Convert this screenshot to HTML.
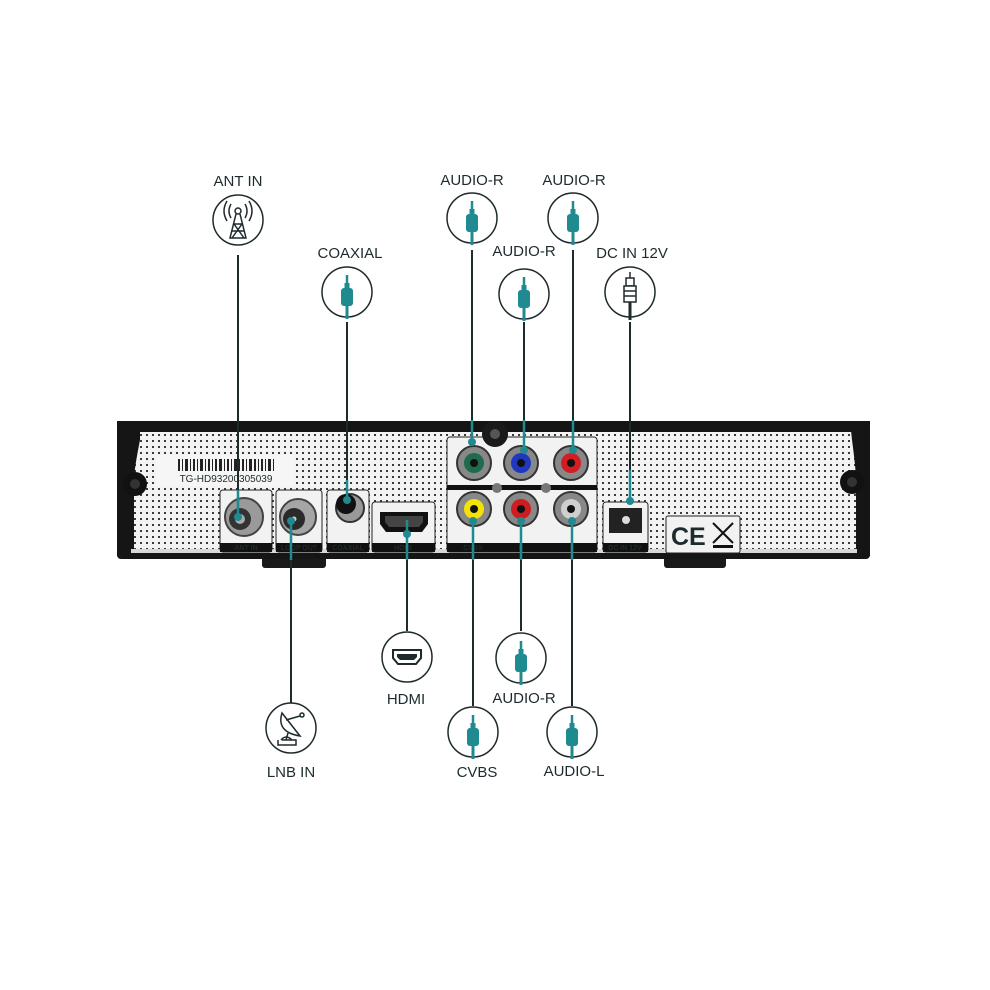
<!DOCTYPE html>
<html><head><meta charset="utf-8"><style>
html,body{margin:0;padding:0;background:#fff;}
svg{display:block;}
text{font-family:"Liberation Sans",sans-serif;fill:#1d2b2e;}
</style></head><body>
<svg width="990" height="990" viewBox="0 0 990 990" xmlns="http://www.w3.org/2000/svg">
<defs>
<pattern id="dots" width="6" height="6" patternUnits="userSpaceOnUse">
<rect width="6" height="6" fill="#f3f3f3"/><rect x="2" y="2" width="2" height="2" fill="#3a3a3a"/>
</pattern>
<g id="jack">
<line x1="0" y1="-17" x2="0" y2="-8" stroke="#1f8a8f" stroke-width="2.5"/>
<rect x="-2.5" y="-9" width="5" height="5" fill="#1f8a8f"/>
<rect x="-6" y="-4" width="12" height="18" rx="3" fill="#1f8a8f"/>
<line x1="0" y1="14" x2="0" y2="27" stroke="#1f8a8f" stroke-width="3"/>
</g>
</defs>

<rect x="262" y="552" width="64" height="16" rx="3" fill="#1a1a1a"/>
<rect x="664" y="552" width="62" height="16" rx="3" fill="#1a1a1a"/>
<rect x="117" y="421" width="753" height="138" rx="4" fill="#151515"/>
<rect x="131" y="432" width="726" height="120" fill="url(#dots)"/>
<path d="M117 421 L140 421 L140 440 Q134 470 134 480 L134 556 L117 556Z" fill="#151515"/>
<path d="M870 421 L850 421 L852 440 Q856 470 856 480 L856 556 L870 556Z" fill="#151515"/>
<circle cx="135" cy="484" r="12" fill="#111"/><circle cx="135" cy="484" r="5" fill="#333"/>
<circle cx="852" cy="482" r="12" fill="#111"/><circle cx="852" cy="482" r="5" fill="#333"/>
<rect x="131" y="549" width="726" height="4" fill="#d8d8d8"/>

<rect x="156" y="455" width="138" height="31" fill="#f6f6f6"/>
<g fill="#222">
<rect x="178" y="459" width="2" height="12"/><rect x="182" y="459" width="1" height="12"/><rect x="185" y="459" width="3" height="12"/><rect x="190" y="459" width="1" height="12"/><rect x="193" y="459" width="2" height="12"/><rect x="197" y="459" width="1" height="12"/><rect x="200" y="459" width="3" height="12"/><rect x="205" y="459" width="1" height="12"/><rect x="208" y="459" width="2" height="12"/><rect x="212" y="459" width="1" height="12"/><rect x="215" y="459" width="2" height="12"/><rect x="219" y="459" width="3" height="12"/><rect x="224" y="459" width="1" height="12"/><rect x="227" y="459" width="2" height="12"/><rect x="231" y="459" width="1" height="12"/><rect x="234" y="459" width="3" height="12"/><rect x="239" y="459" width="1" height="12"/><rect x="242" y="459" width="2" height="12"/><rect x="246" y="459" width="1" height="12"/><rect x="249" y="459" width="3" height="12"/><rect x="254" y="459" width="2" height="12"/><rect x="258" y="459" width="1" height="12"/><rect x="261" y="459" width="2" height="12"/><rect x="265" y="459" width="1" height="12"/><rect x="268" y="459" width="3" height="12"/><rect x="273" y="459" width="1" height="12"/>
</g>
<text x="226" y="482" font-size="10" text-anchor="middle" fill="#333">TG-HD93200305039</text>

<g fill="#f2f2f2" stroke="#222" stroke-width="1">
<rect x="220" y="490" width="52" height="62" rx="3"/>
<rect x="276" y="490" width="46" height="62" rx="3"/>
<rect x="327" y="490" width="42" height="62" rx="3"/>
<rect x="372" y="502" width="63" height="50" rx="3"/>
<rect x="447" y="437" width="150" height="115" rx="3"/>
<rect x="603" y="502" width="45" height="50" rx="3"/>
<rect x="666" y="516" width="74" height="37" rx="2"/>
</g>
<g fill="#111">
<rect x="220" y="543" width="52" height="9"/><rect x="276" y="543" width="46" height="9"/><rect x="327" y="543" width="42" height="9"/><rect x="372" y="543" width="63" height="9"/><rect x="447" y="543" width="150" height="9"/><rect x="603" y="543" width="45" height="9"/>
<rect x="447" y="485" width="150" height="5"/>
</g>
<g font-size="7" text-anchor="middle" font-weight="bold">
<text x="246" y="550" fill="#fff">ANT IN</text><text x="299" y="550" fill="#fff">LOOP OUT</text><text x="348" y="550" fill="#fff">COAXIAL</text><text x="403" y="550" fill="#fff">HDMI</text><text x="473" y="550" fill="#fff">CVBS</text><text x="521" y="550" fill="#fff">R</text><text x="572" y="550" fill="#fff">L</text><text x="625" y="550" fill="#fff">DC IN 12V</text>
</g>
<circle cx="244" cy="517" r="19" fill="#9a9a9a" stroke="#444" stroke-width="2"/>
<circle cx="240" cy="519" r="11" fill="#333"/><circle cx="240" cy="519" r="5" fill="#aaa"/>
<circle cx="298" cy="517" r="18" fill="#a5a5a5" stroke="#444" stroke-width="2"/>
<circle cx="294" cy="519" r="11" fill="#2a2a2a"/><circle cx="294" cy="519" r="2.5" fill="#ccc"/>
<circle cx="350" cy="508" r="14" fill="#999" stroke="#333" stroke-width="2"/>
<circle cx="346" cy="504" r="10" fill="#111"/>
<path d="M380 512 H428 V524 L422 532 H386 L380 524Z" fill="#111"/>
<path d="M385 516 H423 V522 L419 527 H389 L385 522Z" fill="#444"/>
<circle cx="495" cy="434" r="13" fill="#1a1a1a"/><circle cx="495" cy="434" r="5" fill="#555"/>
<g stroke="#333" stroke-width="2">
<circle cx="474" cy="463" r="17" fill="#888"/><circle cx="521" cy="463" r="17" fill="#888"/><circle cx="571" cy="463" r="17" fill="#888"/>
<circle cx="474" cy="509" r="17" fill="#888"/><circle cx="521" cy="509" r="17" fill="#888"/><circle cx="571" cy="509" r="17" fill="#888"/>
</g>
<circle cx="474" cy="463" r="10" fill="#1f6b4e"/><circle cx="521" cy="463" r="10" fill="#2038c0"/><circle cx="571" cy="463" r="10" fill="#d21d22"/>
<circle cx="474" cy="509" r="10" fill="#f2e20a"/><circle cx="521" cy="509" r="10" fill="#cf1c20"/><circle cx="571" cy="509" r="10" fill="#cfcfcf"/>
<g fill="#111"><circle cx="474" cy="463" r="4"/><circle cx="521" cy="463" r="4"/><circle cx="571" cy="463" r="4"/><circle cx="474" cy="509" r="4"/><circle cx="521" cy="509" r="4"/><circle cx="571" cy="509" r="4"/></g>
<circle cx="497" cy="488" r="5" fill="#777"/><circle cx="546" cy="488" r="5" fill="#777"/>
<rect x="609" y="508" width="33" height="25" fill="#222"/><circle cx="626" cy="520" r="4" fill="#ddd"/>
<text x="671" y="545" font-size="25" fill="#111" font-weight="bold">CE</text>
<path d="M713 523 L733 543 M733 523 L713 543" stroke="#111" stroke-width="2"/>
<rect x="713" y="545" width="20" height="3" fill="#111"/>

<g stroke="#1e2a2c" stroke-width="2" fill="none">
<line x1="238" y1="255" x2="238" y2="516"/>
<line x1="347" y1="322" x2="347" y2="500"/>
<line x1="472" y1="250" x2="472" y2="442"/>
<line x1="524" y1="322" x2="524" y2="450"/>
<line x1="573" y1="250" x2="573" y2="450"/>
<line x1="630" y1="322" x2="630" y2="500"/>
<line x1="291" y1="520" x2="291" y2="703"/>
<line x1="407" y1="533" x2="407" y2="631"/>
<line x1="473" y1="520" x2="473" y2="706"/>
<line x1="521" y1="520" x2="521" y2="631"/>
<line x1="572" y1="520" x2="572" y2="706"/>
</g>
<g stroke="#1f8a8f" stroke-width="2.5">
<line x1="238" y1="490" x2="238" y2="516"/><line x1="347" y1="480" x2="347" y2="500"/><line x1="472" y1="420" x2="472" y2="442"/><line x1="524" y1="420" x2="524" y2="450"/><line x1="573" y1="420" x2="573" y2="450"/><line x1="630" y1="470" x2="630" y2="500"/>
<line x1="291" y1="520" x2="291" y2="560"/><line x1="407" y1="520" x2="407" y2="560"/><line x1="473" y1="520" x2="473" y2="560"/><line x1="521" y1="520" x2="521" y2="560"/><line x1="572" y1="520" x2="572" y2="560"/>
</g>
<g fill="#1f8a8f">
<circle cx="238" cy="517" r="4"/><circle cx="347" cy="500" r="4"/><circle cx="472" cy="442" r="4"/><circle cx="524" cy="450" r="4"/><circle cx="573" cy="450" r="4"/><circle cx="630" cy="501" r="4"/>
<circle cx="291" cy="521" r="4"/><circle cx="407" cy="534" r="4"/><circle cx="473" cy="521" r="4"/><circle cx="521" cy="521" r="4"/><circle cx="572" cy="521" r="4"/>
</g>

<g fill="#fff" stroke="#1e2a2c" stroke-width="1.5">
<circle cx="238" cy="220" r="25"/><circle cx="347" cy="292" r="25"/><circle cx="472" cy="218" r="25"/><circle cx="524" cy="294" r="25"/><circle cx="573" cy="218" r="25"/><circle cx="630" cy="292" r="25"/>
<circle cx="291" cy="728" r="25"/><circle cx="407" cy="657" r="25"/><circle cx="473" cy="732" r="25"/><circle cx="521" cy="658" r="25"/><circle cx="572" cy="732" r="25"/>
</g>
<use href="#jack" x="347" y="292"/><use href="#jack" x="472" y="218"/><use href="#jack" x="524" y="294"/><use href="#jack" x="573" y="218"/>
<use href="#jack" x="473" y="732"/><use href="#jack" x="521" y="658"/><use href="#jack" x="572" y="732"/>
<g stroke="#1e2a2c" stroke-width="1.5" fill="none">
<circle cx="238" cy="211" r="3"/>
<path d="M231 204 Q227 211 231 218 M245 204 Q249 211 245 218 M227 201 Q221 211 227 221 M249 201 Q255 211 249 221"/>
<path d="M236 214 L230 238 H246 L240 214 M233 224 H243 M232 231 H244 M234 224 L244 238 M242 224 L232 238"/>
</g>
<g stroke="#1e2a2c" stroke-width="1.5" fill="#fff">
<rect x="626" y="278" width="8" height="8"/><rect x="624" y="286" width="12" height="16"/>
<line x1="624" y1="291" x2="636" y2="291"/><line x1="624" y1="296" x2="636" y2="296"/>
</g>
<line x1="630" y1="302" x2="630" y2="320" stroke="#1e2a2c" stroke-width="3"/>
<line x1="630" y1="272" x2="630" y2="278" stroke="#1e2a2c" stroke-width="1.5"/>
<path d="M393 650 H421 V658 L416 664 H398 L393 658Z" fill="none" stroke="#1e2a2c" stroke-width="2"/>
<path d="M397 654 H417 V657 L414 660 H400 L397 657Z" fill="#1e2a2c"/>
<g stroke="#1e2a2c" stroke-width="1.5" fill="none">
<path d="M282 713 Q276 732 300 736 Z"/>
<line x1="286" y1="720" x2="300" y2="716"/><circle cx="302" cy="715" r="2"/>
<path d="M288 733 L286 740 M282 740 H296 V745 H278 V740"/>
<path d="M281 740 Q286 734 292 740"/>
</g>

<g font-size="15" text-anchor="middle">
<text x="238" y="186">ANT IN</text>
<text x="350" y="258">COAXIAL</text>
<text x="472" y="185">AUDIO-R</text>
<text x="524" y="256">AUDIO-R</text>
<text x="574" y="185">AUDIO-R</text>
<text x="632" y="258">DC IN 12V</text>
<text x="291" y="777">LNB IN</text>
<text x="406" y="704">HDMI</text>
<text x="477" y="777">CVBS</text>
<text x="524" y="703">AUDIO-R</text>
<text x="574" y="776">AUDIO-L</text>
</g>
</svg>
</body></html>
